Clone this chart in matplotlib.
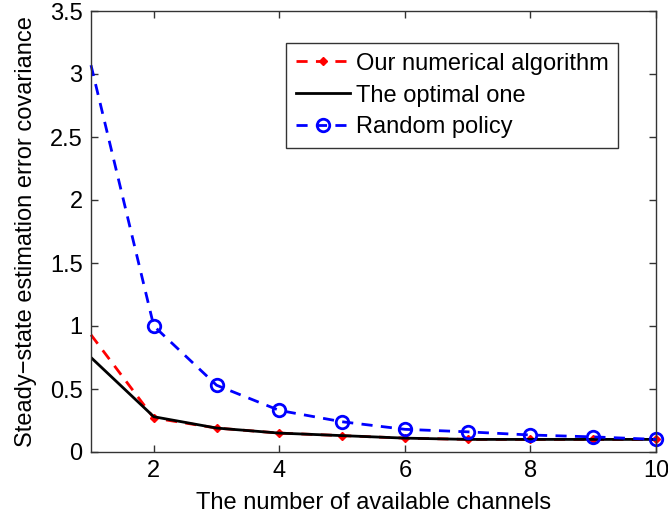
import numpy as np
import matplotlib
matplotlib.use('Agg')
import matplotlib.pyplot as plt

plt.rcParams['font.family'] = ['Liberation Sans', 'DejaVu Sans']

channels = [1, 2, 3, 4, 5, 6, 7, 8, 9, 10]
numerical = [0.93, 0.27, 0.19, 0.15, 0.13, 0.11, 0.10, 0.10, 0.10, 0.10]
optimal = [0.75, 0.28, 0.19, 0.15, 0.13, 0.11, 0.10, 0.10, 0.10, 0.10]
random_policy = [3.07, 1.00, 0.53, 0.33, 0.24, 0.18, 0.16, 0.135, 0.12, 0.10]

fig = plt.figure(figsize=(6.68, 5.22), dpi=100)
ax = fig.add_axes([91/668, 70/522, 565/668, 441/522])

ax.plot(channels, numerical, color='red', linestyle='--', linewidth=2, dashes=(4, 3),
        marker='D', markersize=4.5, markevery=list(range(1, 10)),
        label='Our numerical algorithm', clip_on=False)
ax.plot(channels, optimal, color='black', linestyle='-', linewidth=2, label='The optimal one')
ax.plot(channels, random_policy, color='blue', linestyle='--', linewidth=2, dashes=(4, 3),
        marker='o', markersize=9, markerfacecolor='none', markeredgewidth=2,
        markevery=list(range(1, 10)), label='Random policy', clip_on=False)

ax.set_xlim(1, 10)
ax.set_ylim(0, 3.5)
ax.set_xticks([2, 4, 6, 8, 10])
ax.set_yticks(np.arange(0, 3.51, 0.5))
ax.set_yticklabels(['0', '0.5', '1', '1.5', '2', '2.5', '3', '3.5'])
ax.tick_params(direction='in', top=True, right=True, labelsize=17, length=5, width=1,
               colors='#333333', labelcolor='black', pad=6)
for s in ax.spines.values():
    s.set_color('#333333')
    s.set_linewidth(1)

ax.set_xlabel('The number of available channels', fontsize=17, labelpad=7)
ax.set_ylabel('Steady\u2212state estimation error covariance', fontsize=17, labelpad=9)

leg = ax.legend(loc='upper right', bbox_to_anchor=(0.933, 0.927), fontsize=17, fancybox=False,
                edgecolor='#333333', framealpha=1, handlelength=2.3, handletextpad=0.25,
                borderpad=0.4, labelspacing=0.42, borderaxespad=0)
leg.get_frame().set_linewidth(1)

fig.savefig('out.png', dpi=100)
